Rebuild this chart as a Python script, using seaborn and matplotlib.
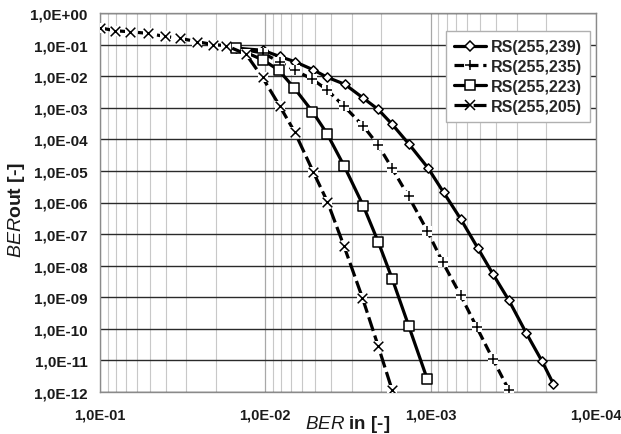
import matplotlib
matplotlib.use("Agg")
import matplotlib.pyplot as plt
import matplotlib.ticker as mticker
from matplotlib.lines import Line2D
import seaborn as sns
import numpy as np

# values
ber_in_205 = [0.1, 0.081, 0.066, 0.0515, 0.0407, 0.0326, 0.0258, 0.0207, 0.0173, 0.0131,
              0.0104, 0.0082, 0.00666, 0.00512, 0.00421, 0.00334, 0.00259, 0.00208, 0.00171]
ber_out_205 = [0.34, 0.274, 0.255, 0.227, 0.182, 0.157, 0.123, 0.1, 0.093, 0.05,
               9.1e-3, 1.15e-3, 1.75e-4, 9.1e-6, 1.05e-6, 4.1e-8, 9.8e-10, 2.9e-11, 1.15e-12]

ber_in_223 = [0.015, 0.01026, 0.0083, 0.00668, 0.00519, 0.00423, 0.00333, 0.00256, 0.00208,
              0.00171, 0.00136, 0.00105]
ber_out_223 = [0.077, 0.032, 0.0155, 4.2e-3, 7.6e-4, 1.5e-4, 1.4e-5, 8e-7, 5.8e-8,
               3.9e-9, 1.27e-10, 2.6e-12]

ber_in_235 = [0.015, 0.01035, 0.0082, 0.00666, 0.00519, 0.00424, 0.00333, 0.00255, 0.00208,
              0.00171, 0.00136, 0.00105, 8.45e-4, 6.58e-4, 5.27e-4, 4.22e-4, 3.36e-4]
ber_out_235 = [0.077, 0.054, 0.028, 0.0155, 8.0e-3, 3.7e-3, 1.1e-3, 2.6e-4, 6.6e-5,
               1.2e-5, 1.55e-6, 1.29e-7, 1.27e-8, 1.14e-9, 1.13e-10, 1.14e-11, 1.13e-12]

ber_in_239 = [0.015, 0.01035, 0.0082, 0.00666, 0.00512, 0.00424, 0.0033, 0.00255, 0.00208,
              0.00171, 0.00136, 0.00104, 8.36e-4, 6.58e-4, 5.17e-4, 4.19e-4, 3.36e-4,
              2.64e-4, 2.12e-4, 1.81e-4]
ber_out_239 = [0.077, 0.066, 0.042, 0.029, 0.0158, 9.3e-3, 5.5e-3, 2.0e-3, 8.9e-4,
               3.0e-4, 7.3e-5, 1.26e-5, 2.1e-6, 3.0e-7, 3.5e-8, 5.3e-9, 7.9e-10,
               7.3e-11, 9.4e-12, 1.8e-12]

labels = ["RS(255,239)", "RS(255,235)", "RS(255,223)", "RS(255,205)"]
y_ticks = [10.0 ** -k for k in range(0, 13)]

sns.set_theme(style="white")
plt.rcParams['font.family'] = ['Liberation Sans', 'DejaVu Sans']
plt.rcParams['mathtext.fontset'] = 'custom'
plt.rcParams['mathtext.it'] = 'Liberation Sans:italic'
plt.rcParams['mathtext.rm'] = 'Liberation Sans'

fig = plt.figure(figsize=(6.21, 4.35), dpi=100)
ax = fig.add_axes([100 / 621, 1 - 393 / 435, 496 / 621, 379 / 435])

series = [
    (ber_in_239, ber_out_239, "D", (None, None), 22, "white"),
    (ber_in_235, ber_out_235, "+", (3.0, 1.5), 45, "black"),
    (ber_in_223, ber_out_223, "s", (None, None), 55, "white"),
    (ber_in_205, ber_out_205, "x", (4.5, 1.5), 48, "black"),
]

handles = []
for (xs, ys, m, dash, size, fc), lab in zip(series, labels):
    ls = "-" if dash[0] is None else (0, dash)
    sns.lineplot(x=xs, y=ys, ax=ax, color="black", lw=2.3, linestyle=ls,
                 sort=False, estimator=None, zorder=3)
    if m in ("x", "+"):
        # white backing like the spreadsheet markers
        sns.scatterplot(x=xs, y=ys, ax=ax, marker="s", color="white", s=size,
                        linewidth=0, zorder=3)
        sns.scatterplot(x=xs, y=ys, ax=ax, marker=m, color="black", s=size,
                        linewidth=1.1, zorder=3)
    else:
        sns.scatterplot(x=xs, y=ys, ax=ax, marker=m, color=fc, edgecolor="black",
                        s=size, linewidth=1.1, zorder=3)
    handles.append(Line2D([], [], color="black", lw=2.3, linestyle=ls, marker=m,
                          markersize=np.sqrt(size), markerfacecolor="white",
                          markeredgecolor="black", markeredgewidth=1.1, label=lab))

ax.set_xscale("log")
ax.set_yscale("log")
ax.set_xlim(1e-1, 1e-4)
ax.set_ylim(1e-12, 1e0)

fmt = mticker.FuncFormatter(lambda v, p: f"{v:.1E}".replace(".", ","))
ax.xaxis.set_major_locator(mticker.FixedLocator([1e-1, 1e-2, 1e-3, 1e-4]))
ax.xaxis.set_minor_locator(mticker.LogLocator(base=10, subs=np.arange(2, 10), numticks=20))
ax.xaxis.set_minor_formatter(mticker.NullFormatter())
ax.xaxis.set_major_formatter(fmt)
ax.yaxis.set_major_locator(mticker.FixedLocator(y_ticks))
ax.yaxis.set_minor_locator(mticker.NullLocator())
ax.yaxis.set_major_formatter(fmt)

ax.set_axisbelow(True)
ax.grid(True, axis="y", which="major", color="#2a2a2a", lw=1.0)
ax.grid(True, axis="x", which="major", color="#a8a8a8", lw=0.9)
ax.grid(True, axis="x", which="minor", color="#c8c8c8", lw=0.8)

for sp in ax.spines.values():
    sp.set_color("#8a8a8a")
    sp.set_linewidth(1.0)

ax.tick_params(axis="y", which="major", direction="out", length=3, width=0.8,
               color="#555555", pad=6, labelsize=11, labelcolor="#1a1a1a")
ax.tick_params(axis="x", which="major", direction="out", length=2, width=0.8,
               color="#8a8a8a", pad=9, labelsize=10.5, labelcolor="#1a1a1a")
ax.tick_params(axis="x", which="minor", length=0)
for t in ax.get_xticklabels() + ax.get_yticklabels():
    t.set_fontweight("bold")

ax.set_xlabel(r"$\mathit{BER}$ in [-]", fontsize=13.5, fontweight="bold", color="#1a1a1a")
ax.set_ylabel(r"$\mathit{BER}$out [-]", fontsize=14, fontweight="bold", color="#1a1a1a")
ax.xaxis.set_label_coords(0.5, -0.055)
ax.yaxis.set_label_coords(-0.148, 0.483)

leg = ax.legend(handles=handles, loc="upper right", bbox_to_anchor=(0.988, 0.952),
                borderaxespad=0, fancybox=False, framealpha=1, edgecolor="#b0b0b0",
                prop={"weight": "bold", "size": 11.5}, handlelength=2.0,
                handletextpad=0.3, borderpad=0.5, labelspacing=0.3)
leg.get_frame().set_linewidth(1.0)

fig.savefig("out.png", dpi=100)
